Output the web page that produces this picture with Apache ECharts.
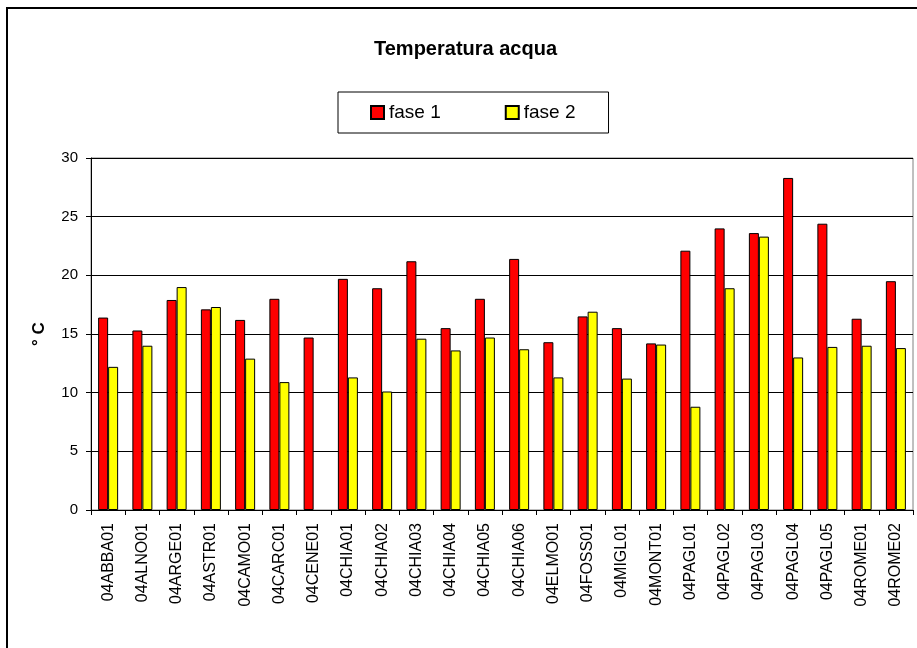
<!DOCTYPE html>
<html><head><meta charset="utf-8">
<script src="https://cdn.jsdelivr.net/npm/echarts@6/dist/echarts.min.js"></script>
<style>html,body{margin:0;padding:0;background:#fff}#c{width:917px;height:648px}</style>
</head><body><div id="c"></div>
<script>
const categories = ['04ABBA01','04ALNO01','04ARGE01','04ASTR01','04CAMO01','04CARC01','04CENE01','04CHIA01','04CHIA02','04CHIA03','04CHIA04','04CHIA05','04CHIA06','04ELMO01','04FOSS01','04MIGL01','04MONT01','04PAGL01','04PAGL02','04PAGL03','04PAGL04','04PAGL05','04ROME01','04ROME02'];
const fase1 = [16.4,15.3,17.9,17.1,16.2,18.0,14.7,19.7,18.9,21.2,15.5,18.0,21.4,14.3,16.5,15.5,14.2,22.1,24.0,23.6,28.3,24.4,16.3,19.5];
const fase2 = [12.2,14.0,19.0,17.3,12.9,10.9,null,11.3,10.1,14.6,13.6,14.7,13.7,11.3,16.9,11.2,14.1,8.8,18.9,23.3,13.0,13.9,14.0,13.8];
const yTicks = [0,5,10,15,20,25,30];

const chart = echarts.init(document.getElementById('c'), null, {renderer:'canvas'});
const F = 'Liberation Sans, Arial, sans-serif';
chart.setOption({
  backgroundColor:'#fff',
  animation:false,
  graphic:[{type:'rect', shape:{x:7,y:8,width:930,height:660}, style:{fill:'none', stroke:'#000', lineWidth:2}, z:-1}],
  title:{text:'Temperatura acqua', left:374, top:39, padding:0, textStyle:{fontFamily:F, fontSize:20, fontWeight:'bold', color:'#000'}},
  legend:{top:92, left:338, data:['fase 1','fase 2'], icon:'rect', itemWidth:13, itemHeight:13, itemGap:64,
    padding:[11,33,11,32], borderColor:'#000', borderWidth:1, textStyle:{fontFamily:F, fontSize:19, color:'#000'}},
  grid:{left:91, right:4, top:158, bottom:138, show:true, borderColor:'#808080', borderWidth:1, containLabel:false},
  xAxis:{type:'category', data:categories,
    axisLine:{lineStyle:{color:'#000', width:1}},
    axisTick:{show:true, length:5, lineStyle:{color:'#000'}},
    axisLabel:{rotate:90, fontFamily:F, fontSize:16, color:'#000', margin:13, interval:0}},
  yAxis:{type:'value', min:0, max:30, interval:5, name:'° C', nameLocation:'middle', nameGap:43,
    nameTextStyle:{fontFamily:F, fontSize:17, fontWeight:'bold', color:'#000'},
    axisLine:{show:true, lineStyle:{color:'#000'}},
    axisTick:{show:true, length:5, inside:false, lineStyle:{color:'#000'}},
    axisLabel:{fontFamily:F, fontSize:15, color:'#000', margin:13, formatter:v=>yTicks.includes(v)?String(v):''},
    splitLine:{show:true, lineStyle:{color:'#000', width:1}}},
  series:[
    {name:'fase 1', type:'bar', data:fase1, barWidth:10, barGap:'0%', itemStyle:{color:'#ff0000', borderColor:'#000', borderWidth:1}},
    {name:'fase 2', type:'bar', data:fase2, barWidth:10, barGap:'0%', itemStyle:{color:'#ffff00', borderColor:'#000', borderWidth:1}}
  ]
});
</script></body></html>
